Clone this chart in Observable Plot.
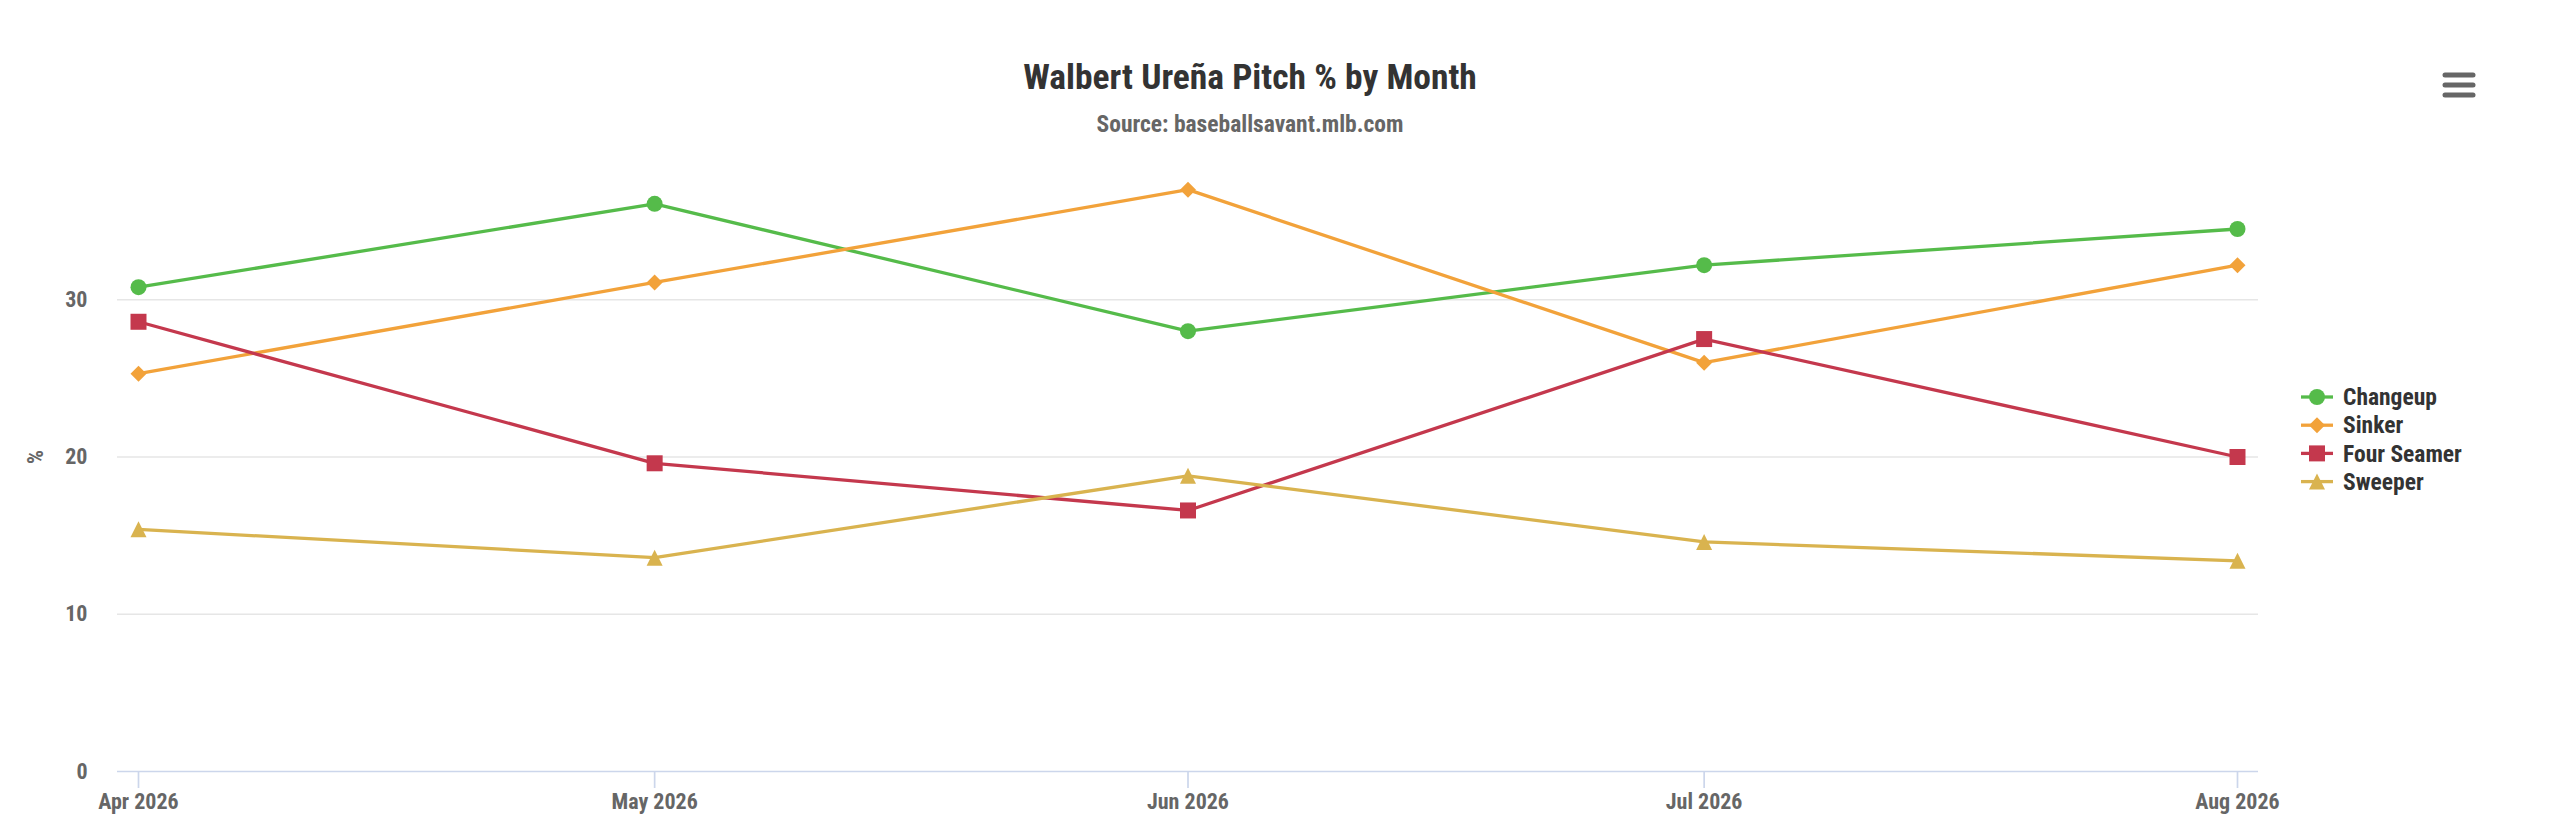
<!DOCTYPE html>
<html>
<head>
<meta charset="utf-8">
<script src="https://cdn.jsdelivr.net/npm/d3@7"></script>
<script src="https://cdn.jsdelivr.net/npm/@observablehq/plot@0.6"></script>
<style>
  html, body { margin: 0; padding: 0; background: #fff; }
  #wrap { position: relative; width: 2560px; height: 833px; overflow: hidden; }
  #chart { position: absolute; left: 0; top: 140px; }
  #overlay { position: absolute; left: 0; top: 0; pointer-events: none; }
  text { font-stretch: 87.5%; }
</style>
</head>
<body>
<div id="wrap">
  <div id="chart"></div>
  <svg id="overlay" width="2560" height="833"></svg>
</div>
<script>
const titleText = "Walbert Ureña Pitch % by Month";
const subtitleText = "Source: baseballsavant.mlb.com";
const yAxisTitle = "%";

const months = ["2026-04-01", "2026-05-01", "2026-06-01", "2026-07-01", "2026-08-01"];
const seriesNames = ["Changeup", "Sinker", "Four Seamer", "Sweeper"];
const changeup   = [30.8, 36.1, 28.0, 32.2, 34.5];
const sinker     = [25.3, 31.1, 37.0, 26.0, 32.2];
const fourSeamer = [28.6, 19.6, 16.6, 27.5, 20.0];
const sweeper    = [15.4, 13.6, 18.8, 14.6, 13.4];
const yTicks = [0, 10, 20, 30];
const seriesColors = ["#55bb4a", "#f2a23a", "#c4384d", "#d9b34f"];

// Highcharts-like marker shapes (each fits a 2r x 2r box)
const symCircle = {draw(c, size) { const r = Math.sqrt(size / Math.PI); c.moveTo(r, 0); c.arc(0, 0, r, 0, 2 * Math.PI); c.closePath(); }};
const symDiamond = {draw(c, size) { const r = Math.sqrt(size / 2); c.moveTo(0, -r); c.lineTo(r, 0); c.lineTo(0, r); c.lineTo(-r, 0); c.closePath(); }};
const symSquare = {draw(c, size) { const r = Math.sqrt(size) / 2; c.rect(-r, -r, 2 * r, 2 * r); }};
const symTriangle = {draw(c, size) { const r = Math.sqrt(size / 2); c.moveTo(0, -r); c.lineTo(r, r); c.lineTo(-r, r); c.closePath(); }};
const seriesSymbols = [symCircle, symDiamond, symSquare, symTriangle];
const markerHalf = 8; // half of marker box, px

const FONT = "Roboto, 'Noto Sans', sans-serif";
const values = [changeup, sinker, fourSeamer, sweeper];
const dates = months.map(m => new Date(m + "T00:00:00Z"));
const data = seriesNames.flatMap((s, i) => dates.map((d, j) => ({series: s, date: d, value: values[i][j]})));

const boxArea = {
  "Changeup": Math.PI * markerHalf * markerHalf,
  "Sinker": 2 * markerHalf * markerHalf,
  "Four Seamer": 4 * markerHalf * markerHalf,
  "Sweeper": 2 * markerHalf * markerHalf
};

const chart = Plot.plot({
  width: 2560,
  height: 693,
  marginLeft: 117,
  marginRight: 302,
  marginTop: 2,
  marginBottom: 62,
  style: {fontFamily: FONT, fontSize: "22px", fontWeight: "bold", color: "#666", background: "transparent"},
  x: {type: "utc", domain: [dates[0], dates[dates.length - 1]], insetLeft: 21, insetRight: 21},
  y: {domain: [0, 40]},
  r: {type: "identity"},
  color: {domain: seriesNames, range: seriesColors},
  symbol: {domain: seriesNames, range: seriesSymbols},
  marks: [
    Plot.gridY(yTicks.slice(1), {stroke: "#e6e6e6", strokeOpacity: 1, strokeWidth: 1.7}),
    Plot.ruleY([0], {stroke: "#ccd6eb", strokeWidth: 1.7}),
    Plot.axisX(dates, {tickFormat: d3.utcFormat("%b %Y"), tickSize: 17, tickPadding: 5, stroke: "#ccd6eb", strokeWidth: 1.7, fill: "#666", label: null}),
    Plot.axisY(yTicks, {tickSize: 0, tickPadding: 30, fill: "#666", label: yAxisTitle, labelAnchor: "center", labelOffset: 90, labelArrow: "none"}),
    Plot.lineY(data, {x: "date", y: "value", z: "series", stroke: "series", strokeWidth: 3.3}),
    Plot.dot(data, {x: "date", y: "value", fill: "series", symbol: "series", r: d => Math.sqrt(boxArea[d.series] / Math.PI), stroke: "none"})
  ]
});
document.getElementById("chart").appendChild(chart);

// Header, legend and menu icon
const ov = d3.select("#overlay").style("font-family", FONT);
ov.append("text").attr("x", 1250).attr("y", 89).attr("text-anchor", "middle")
  .attr("font-size", 35.5).attr("font-weight", "bold").attr("fill", "#333").text(titleText);
ov.append("text").attr("x", 1250).attr("y", 132).attr("text-anchor", "middle")
  .attr("font-size", 23.5).attr("font-weight", "bold").attr("fill", "#666").text(subtitleText);

const legendTop = 397, legendStep = 28.2;
seriesNames.forEach((s, i) => {
  const g = ov.append("g").attr("transform", `translate(2301,${legendTop + i * legendStep})`);
  g.append("line").attr("x1", 0).attr("x2", 32).attr("y1", 0).attr("y2", 0)
    .attr("stroke", seriesColors[i]).attr("stroke-width", 3.3);
  g.append("path").attr("transform", "translate(16,0)")
    .attr("d", d3.symbol(seriesSymbols[i], boxArea[s])())
    .attr("fill", seriesColors[i]);
  g.append("text").attr("x", 42).attr("y", 0).attr("dy", "0.35em")
    .attr("font-size", 23.5).attr("font-weight", "bold").attr("fill", "#333").text(s);
});

[75, 85, 95].forEach(y => {
  ov.append("line").attr("x1", 2445).attr("x2", 2473).attr("y1", y).attr("y2", y)
    .attr("stroke", "#666").attr("stroke-width", 5).attr("stroke-linecap", "round");
});
</script>
</body>
</html>
